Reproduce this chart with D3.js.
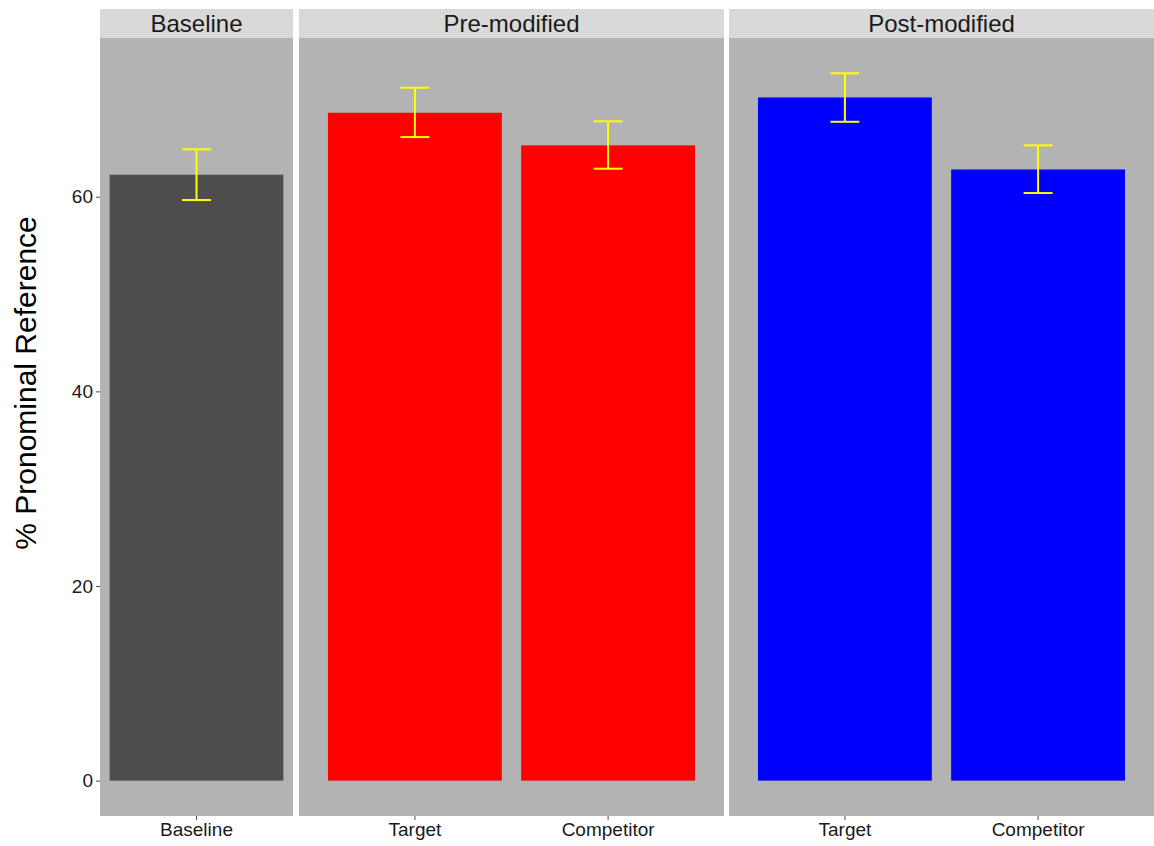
<!DOCTYPE html>
<html><head><meta charset="utf-8">
<script src="https://cdn.jsdelivr.net/npm/d3@7"></script>
<style>body{margin:0;background:#fff;} text{font-family:"Liberation Sans",Arial,sans-serif;}</style>
</head><body>
<svg id="c" width="1154" height="846"></svg>
<script>
// ---- data ----
const panelNames = ["Baseline", "Pre-modified", "Post-modified"];
const panelCategories = [["Baseline"], ["Target", "Competitor"], ["Target", "Competitor"]];
const panelColors = ["#4d4d4d", "#ff0000", "#0000ff"];
const values = [[62.26], [68.63, 65.28], [70.2, 62.8]];
const errLow = [[59.66], [66.13, 62.88], [67.7, 60.38]];
const errHigh = [[64.87], [71.2, 67.75], [72.68, 65.28]];
const yTicks = [0, 20, 40, 60];
const yTitle = "% Pronominal Reference";

// ---- layout ----
const svg = d3.select("#c");
const panelTop = 38, panelBottom = 816, stripTop = 9;
const panelX = [[100, 293], [299, 724], [729, 1154]];
const y = d3.scaleLinear().domain([-3.634, 76.31]).range([panelBottom, panelTop]);

// y axis
const yAxis = d3.axisLeft(y).tickValues(yTicks).tickSize(4).tickPadding(3);
const ga = svg.append("g").attr("transform", `translate(${panelX[0][0]},0)`).call(yAxis);
ga.select(".domain").remove();
ga.selectAll(".tick line").attr("stroke", "#4d4d4d").attr("stroke-width", 1);
ga.selectAll(".tick text").attr("fill", "#1a1a1a").style("font-size", "19px");

svg.append("text").attr("transform", `translate(36,383) rotate(-90)`)
  .attr("text-anchor", "middle").style("font-size", "30px").attr("fill", "#000").text(yTitle);

panelNames.forEach((name, i) => {
  const [x0, x1] = panelX[i];
  const cats = panelCategories[i];
  const x = d3.scaleBand().domain(cats).range([x0, x1])
    .paddingInner(0.1).paddingOuter(cats.length === 1 ? 0.05 : 0.15);
  const g = svg.append("g");
  // strip
  g.append("rect").attr("x", x0).attr("y", stripTop).attr("width", x1 - x0).attr("height", panelTop - stripTop).attr("fill", "#d9d9d9");
  g.append("text").attr("x", (x0 + x1) / 2).attr("y", (stripTop + panelTop) / 2).attr("dy", "0.35em")
    .attr("text-anchor", "middle").style("font-size", "24px").attr("fill", "#1a1a1a").text(name);
  // panel bg
  g.append("rect").attr("x", x0).attr("y", panelTop).attr("width", x1 - x0).attr("height", panelBottom - panelTop).attr("fill", "#b3b3b3");
  // bars
  const data = cats.map((c, j) => ({c, v: values[i][j], lo: errLow[i][j], hi: errHigh[i][j]}));
  g.selectAll(".bar").data(data).join("rect")
    .attr("x", d => x(d.c)).attr("width", x.bandwidth())
    .attr("y", d => y(d.v)).attr("height", d => y(0) - y(d.v))
    .attr("fill", panelColors[i]);
  // error bars
  const ew = x.step() * 0.15;
  const eb = g.selectAll(".eb").data(data).join("g").attr("stroke", "#ffff00").attr("stroke-width", 2);
  eb.append("line").attr("x1", d => x(d.c) + x.bandwidth() / 2).attr("x2", d => x(d.c) + x.bandwidth() / 2)
    .attr("y1", d => y(d.lo)).attr("y2", d => y(d.hi));
  eb.append("line").attr("x1", d => x(d.c) + x.bandwidth() / 2 - ew / 2).attr("x2", d => x(d.c) + x.bandwidth() / 2 + ew / 2)
    .attr("y1", d => y(d.lo)).attr("y2", d => y(d.lo));
  eb.append("line").attr("x1", d => x(d.c) + x.bandwidth() / 2 - ew / 2).attr("x2", d => x(d.c) + x.bandwidth() / 2 + ew / 2)
    .attr("y1", d => y(d.hi)).attr("y2", d => y(d.hi));
  // x axis
  const xa = d3.axisBottom(x).tickSize(4).tickPadding(3);
  const gx = g.append("g").attr("transform", `translate(0,${panelBottom})`).call(xa);
  gx.select(".domain").remove();
  gx.selectAll(".tick line").attr("stroke", "#4d4d4d");
  gx.selectAll(".tick text").attr("fill", "#1a1a1a").style("font-size", "19px");
});
</script>
</body></html>
